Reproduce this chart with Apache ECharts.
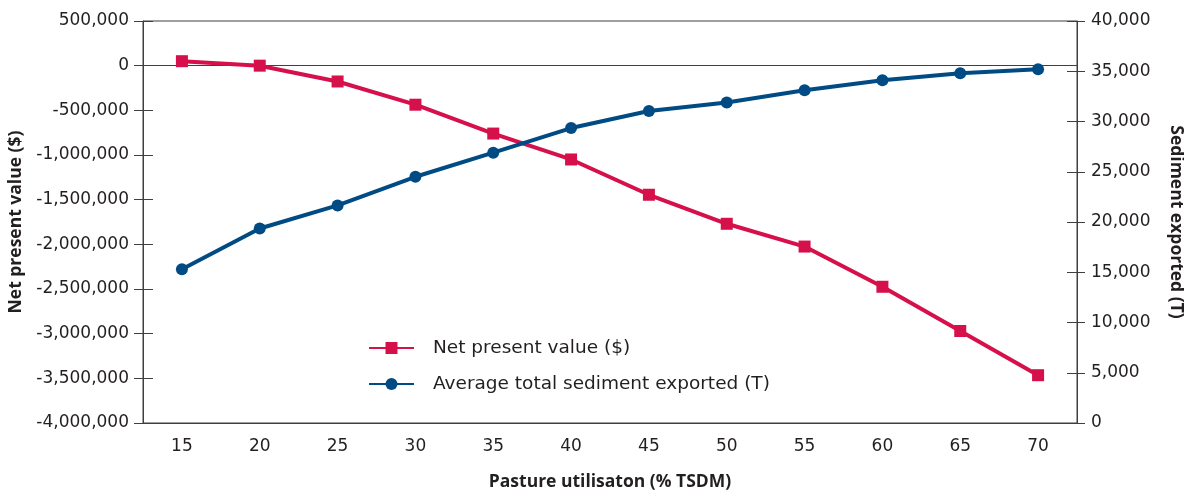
<!DOCTYPE html>
<html>
<head>
<meta charset="utf-8">
<script src="https://cdn.jsdelivr.net/npm/echarts@6/dist/echarts.min.js"></script>
<style>
  html, body { margin: 0; padding: 0; background: #fff; }
  #chart { width: 1184px; height: 491px; }
</style>
</head>
<body>
<div id="chart"></div>
<script>
// pasture utilisation (% TSDM)
const categories = ['15', '20', '25', '30', '35', '40', '45', '50', '55', '60', '65', '70'];
// net present value ($)
const npvValues = [50000, 0, -177000, -437000, -760000, -1050000, -1445000, -1770000, -2025000, -2475000, -2970000, -3465000];
// average total sediment exported (T)
const sedimentValues = [15300, 19350, 21650, 24500, 26900, 29350, 31050, 31900, 33100, 34100, 34800, 35200];

const FONT = '"DejaVu Sans", sans-serif';
const NAME_FONT = '"Open Sans", sans-serif';
const AXIS_COLOR = '#3f3f3f';
const TEXT_COLOR = '#231f20';
const RED = '#d5104b';
const BLUE = '#004b84';

const fmt = (v) => v.toLocaleString('en-US');

const myChart = echarts.init(document.getElementById('chart'));

// two hidden axes only to draw the inner half of the tick marks
const innerTicks = (position, min, max, interval, len) => ({
  type: 'value',
  position: position,
  min: min,
  max: max,
  interval: interval,
  axisLine: { show: false },
  axisLabel: { show: false },
  splitLine: { show: false },
  axisTick: { show: true, inside: true, length: len, lineStyle: { color: AXIS_COLOR, width: 1 } }
});

const nameStyle = { fontFamily: NAME_FONT, fontSize: 17.5, fontWeight: 'bold', color: TEXT_COLOR };
const labelStyle = { fontFamily: FONT, fontSize: 17, color: TEXT_COLOR };

myChart.setOption({
  animation: false,
  textStyle: { fontFamily: FONT, color: TEXT_COLOR },
  grid: {
    left: 143, right: 107, top: 21, bottom: 68,
    outerBoundsMode: 'none',
    containLabel: false,
    show: true, borderColor: AXIS_COLOR, borderWidth: 1
  },
  legend: {
    orient: 'vertical',
    left: 368,
    top: 338,
    padding: 0,
    itemWidth: 45,
    itemHeight: 15,
    itemGap: 16,
    textStyle: { fontFamily: FONT, fontSize: 18.5, color: TEXT_COLOR, padding: [0, 0, 0, 14], lineHeight: 20 },
    data: ['Net present value ($)', 'Average total sediment exported (T)']
  },
  xAxis: {
    type: 'category',
    data: categories,
    boundaryGap: true,
    name: 'Pasture utilisaton (% TSDM)',
    nameLocation: 'middle',
    nameGap: 50,
    nameTextStyle: nameStyle,
    axisLine: { show: true, onZero: false, lineStyle: { color: AXIS_COLOR, width: 1 } },
    axisTick: { show: false },
    axisLabel: Object.assign({ margin: 15 }, labelStyle),
    splitLine: { show: false }
  },
  yAxis: [
    {
      type: 'value',
      position: 'left',
      min: -4000000,
      max: 500000,
      interval: 500000,
      name: 'Net present value ($)',
      nameLocation: 'middle',
      nameRotate: 90,
      nameGap: 103,
      nameTextStyle: nameStyle,
      axisLine: { show: true, lineStyle: { color: AXIS_COLOR, width: 1 } },
      axisTick: { show: true, length: 9, lineStyle: { color: AXIS_COLOR, width: 1 } },
      axisLabel: Object.assign({ margin: 14, formatter: fmt }, labelStyle),
      splitLine: { show: false }
    },
    {
      type: 'value',
      position: 'right',
      min: 0,
      max: 40000,
      interval: 5000,
      name: 'Sediment exported (T)',
      nameLocation: 'middle',
      nameRotate: -90,
      nameGap: 90,
      nameTextStyle: nameStyle,
      axisLine: { show: true, lineStyle: { color: AXIS_COLOR, width: 1 } },
      axisTick: { show: true, length: 8, lineStyle: { color: AXIS_COLOR, width: 1 } },
      axisLabel: Object.assign({ margin: 14, formatter: fmt }, labelStyle),
      splitLine: { show: false }
    },
    innerTicks('left', -4000000, 500000, 500000, 10),
    innerTicks('right', 0, 40000, 5000, 10)
  ],
  series: [
    {
      name: 'Net present value ($)',
      type: 'line',
      yAxisIndex: 0,
      data: npvValues,
      symbol: 'rect',
      symbolSize: 12,
      showSymbol: true,
      lineStyle: { color: RED, width: 4 },
      itemStyle: { color: RED },
      z: 3,
      markLine: {
        silent: true,
        symbol: 'none',
        label: { show: false },
        lineStyle: { color: AXIS_COLOR, width: 1, type: 'solid' },
        data: [{ yAxis: 0 }],
        z: 1
      }
    },
    {
      name: 'Average total sediment exported (T)',
      type: 'line',
      yAxisIndex: 1,
      data: sedimentValues,
      symbol: 'circle',
      symbolSize: 12,
      showSymbol: true,
      lineStyle: { color: BLUE, width: 4 },
      itemStyle: { color: BLUE },
      z: 4
    }
  ]
});
</script>
</body>
</html>
